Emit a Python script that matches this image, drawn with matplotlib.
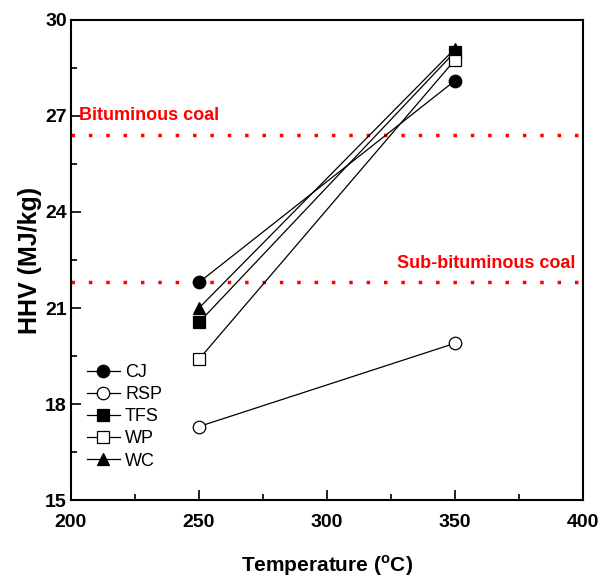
import matplotlib
matplotlib.use("Agg")
import matplotlib.pyplot as plt

temps = [250, 350]
names = ["CJ", "RSP", "TFS", "WP", "WC"]
hhv = {
    "CJ": [21.8, 28.1],
    "RSP": [17.3, 19.9],
    "TFS": [20.55, 29.0],
    "WP": [19.4, 28.75],
    "WC": [21.0, 29.1],
}
markers = {"CJ": "o", "RSP": "o", "TFS": "s", "WP": "s", "WC": "^"}
filled = {"CJ": True, "RSP": False, "TFS": True, "WP": False, "WC": True}

bituminous = 26.4
sub_bituminous = 21.8

plt.rcParams["font.family"] = ["Liberation Sans", "DejaVu Sans"]
plt.rcParams["mathtext.fontset"] = "custom"
plt.rcParams["mathtext.rm"] = "Liberation Sans:bold"

fig = plt.figure(figsize=(6.01, 5.83), dpi=100)
ax = fig.add_axes([0.118, 0.142, 0.852, 0.824])

dots = (0, (1, 4.0))
ax.axhline(bituminous, color="red", lw=2.5, ls=dots)
ax.axhline(sub_bituminous, color="red", lw=2.5, ls=dots)
ax.text(203, 27.0, "Bituminous coal", color="red", fontsize=13,
        fontweight="bold", va="center", ha="left")
ax.text(397, 22.4, "Sub-bituminous coal", color="red", fontsize=13,
        fontweight="bold", va="center", ha="right")

for n in names:
    ax.plot(temps, hhv[n], color="black", lw=0.9, marker=markers[n],
            markersize=9 if markers[n] != "s" else 8,
            markerfacecolor="black" if filled[n] else "white",
            markeredgecolor="black", markeredgewidth=0.9, label=n)

ax.set_xlim(200, 400)
ax.set_ylim(15, 30)
ax.set_xticks([200, 250, 300, 350, 400])
ax.set_yticks([15, 18, 21, 24, 27, 30])
ax.set_xticks([225, 275, 325, 375], minor=True)
ax.set_yticks([16.5, 19.5, 22.5, 25.5, 28.5], minor=True)
ax.tick_params(which="both", direction="in", top=False, right=False, width=1.2)
ax.tick_params(which="major", length=7, labelsize=14)
ax.tick_params(axis="x", which="major", pad=10)
ax.tick_params(axis="y", which="major", pad=3)
ax.tick_params(which="minor", length=4)
for lab in ax.get_xticklabels() + ax.get_yticklabels():
    lab.set_fontweight("bold")
for s in ax.spines.values():
    s.set_linewidth(1.5)

ax.set_xlabel(r"Temperature ($^\mathrm{o}$C)", fontsize=15, fontweight="bold", labelpad=16)
ax.set_ylabel("HHV (MJ/kg)", fontsize=18, fontweight="bold", labelpad=2)

leg = ax.legend(loc="lower left", frameon=False, fontsize=13, handlelength=1.8,
                labelspacing=0.28, borderaxespad=0.5, handletextpad=0.3,
                bbox_to_anchor=(0.0, 0.03))

fig.savefig("out.png", dpi=100)
